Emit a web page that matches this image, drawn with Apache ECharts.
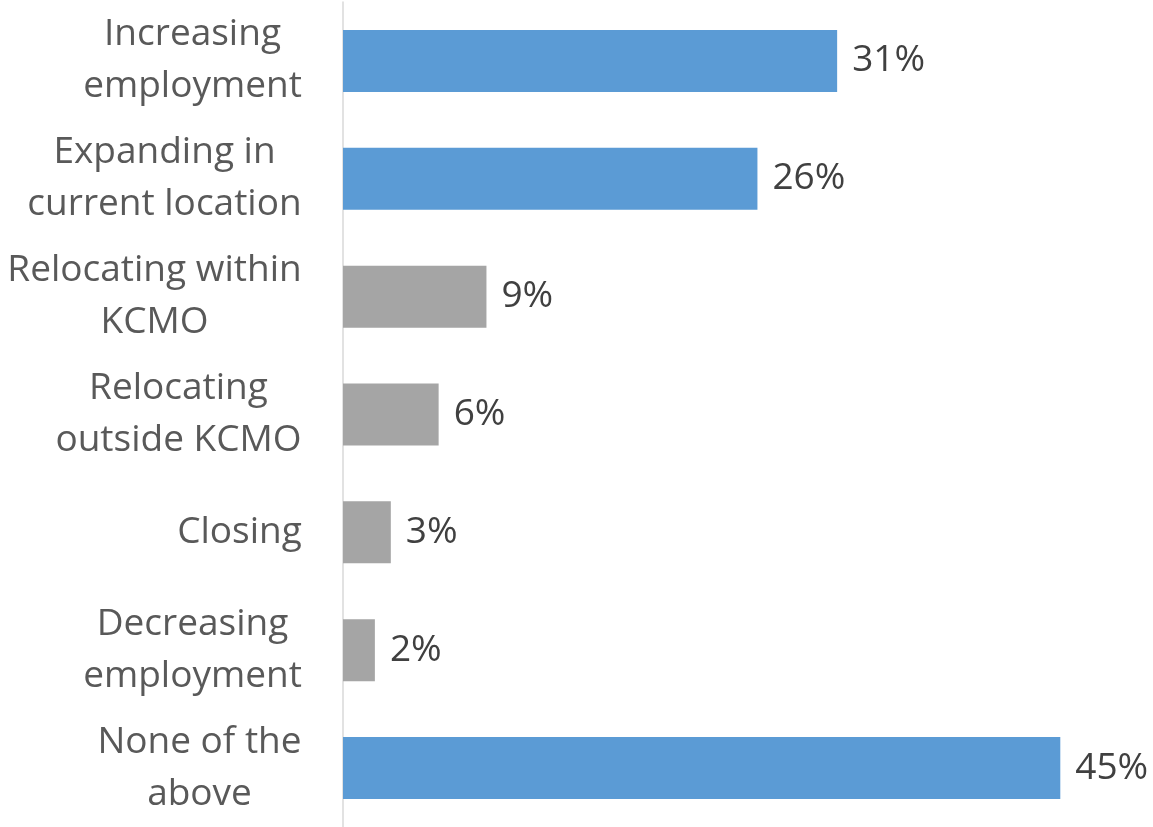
<!DOCTYPE html>
<html>
<head>
<meta charset="utf-8">
<style>
  html, body { margin: 0; padding: 0; background: #ffffff; }
  #chart { width: 1153px; height: 827px; }
</style>
<script src="https://cdn.jsdelivr.net/npm/echarts@6/dist/echarts.min.js"></script>
</head>
<body>
<div id="chart"></div>
<script>
// Business plans over the next year (share of respondents)
const categories = [
  'Increasing\nemployment',
  'Expanding in\ncurrent location',
  'Relocating within\nKCMO',
  'Relocating\noutside KCMO',
  'Closing',
  'Decreasing\nemployment',
  'None of the\nabove'
];
const shares = [31, 26, 9, 6, 3, 2, 45];

// Growth / status-quo answers are drawn in blue, moves and contractions in grey
const BLUE = '#5B9BD5';
const GREY = '#A5A5A5';
const blueRows = new Set([0, 1, 6]);

const FONT_FAMILY = '"Open Sans", "Noto Sans", sans-serif';
const CAT_SIZE = 37;

// Category labels sit right-aligned against the axis, but their lines are
// centred on each other; give every label a rich style as wide as its longest line.
const measureCtx = document.createElement('canvas').getContext('2d');
measureCtx.font = CAT_SIZE + 'px ' + FONT_FAMILY;
const catRich = {};
categories.forEach((name, i) => {
  const w = Math.max(...name.split('\n').map(l => measureCtx.measureText(l).width));
  catRich['c' + i] = {
    width: Math.ceil(w),
    align: 'center',
    color: '#595959',
    fontFamily: FONT_FAMILY,
    fontSize: CAT_SIZE,
    lineHeight: 52
  };
});

const chart = echarts.init(document.getElementById('chart'), null, { renderer: 'canvas' });

chart.setOption({
  animation: false,
  backgroundColor: '#ffffff',
  grid: { left: 343, right: 13, top: 2, bottom: -2, containLabel: false },
  xAxis: {
    type: 'value',
    min: 0,
    max: 50,
    show: false
  },
  yAxis: {
    type: 'category',
    inverse: true,
    data: categories,
    axisLine: { show: true, lineStyle: { color: '#D9D9D9', width: 1.5 } },
    axisTick: { show: false },
    axisLabel: {
      margin: 41,
      align: 'right',
      formatter: (value, index) =>
        value.split('\n').map(line => '{c' + index + '|' + line + '}').join('\n'),
      rich: catRich
    }
  },
  series: [{
    type: 'bar',
    data: shares,
    barWidth: 62,
    itemStyle: {
      color: (p) => blueRows.has(p.dataIndex) ? BLUE : GREY
    },
    label: {
      show: true,
      position: 'right',
      distance: 15,
      formatter: '{c}%',
      color: '#404040',
      fontFamily: FONT_FAMILY,
      fontSize: 37
    }
  }]
});
</script>
</body>
</html>
